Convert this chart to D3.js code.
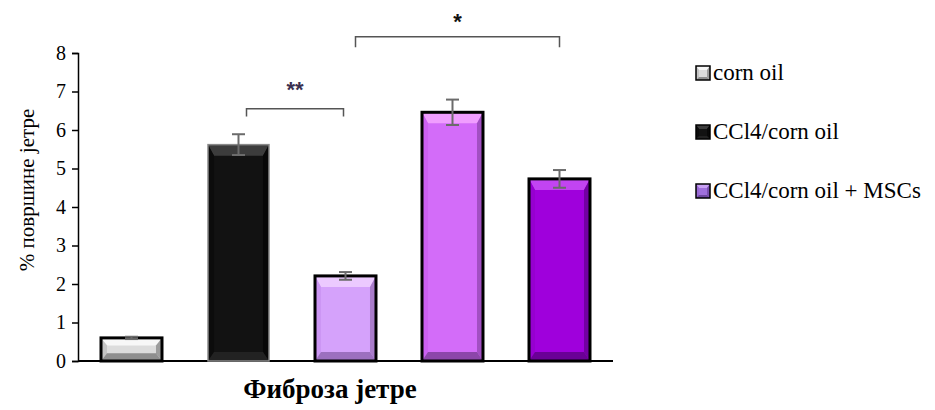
<!DOCTYPE html>
<html><head><meta charset="utf-8">
<script src="https://cdn.jsdelivr.net/npm/d3@7"></script>
<style>body{margin:0;background:#fff}svg{display:block}
.serif{font-family:"Liberation Serif","Times New Roman",Times,"DejaVu Serif",serif}
</style>
</head><body>
<svg id="c" width="935" height="410"></svg>
<script>
const categories = ["c1","c2","c3","c4","c5"];
const values = [0.6, 5.62, 2.21, 6.46, 4.73];
const errors = [0.03, 0.27, 0.1, 0.33, 0.23];
const yTicks = [0,1,2,3,4,5,6,7,8];
const legendLabels = ["corn oil","CCl4/corn oil","CCl4/corn oil + MSCs"];
const yLabel = "% површине јетре";
const xTitle = "Фиброза јетре";

const styles = [
  {base:"#dcdcdc", top:"#f7f7f7", left:"#c4c4c4", right:"#9c9c9c", bottom:"#8e8e8e", stroke:"#000", sw:3},
  {base:"#121212", top:"#3c3c3c", left:"#0c0c0c", right:"#080808", bottom:"#222", stroke:"#8a8a8a", sw:1.5},
  {base:"#d5a2fb", top:"#eccaff", left:"#cc96f4", right:"#a97cca", bottom:"#9c70bf", stroke:"#000", sw:3},
  {base:"#d36cf9", top:"#f09eff", left:"#cc60f2", right:"#a24fc2", bottom:"#8c46aa", stroke:"#000", sw:3},
  {base:"#9f00dc", top:"#c244f2", left:"#9600d0", right:"#7200a2", bottom:"#6a0096", stroke:"#000", sw:3}
];
const legendStyles = [styles[0], styles[1], {base:"#a070dc", top:"#c8a0f4", left:"#9868d4", right:"#7a50b0", bottom:"#6e48a0", stroke:"#000", sw:1.5}];

const svg = d3.select("#c");
const x = d3.scaleBand().domain(categories).range([78, 613]).paddingInner(0.43).paddingOuter(0.215);
const y = d3.scaleLinear().domain([0, 8]).range([361, 53]);

const yAxis = svg.append("g").attr("transform","translate(78,0)")
  .call(d3.axisLeft(y).tickValues(yTicks).tickSize(6).tickPadding(6).tickFormat(d3.format("d")));
yAxis.attr("font-family", null).attr("font-size", null);
yAxis.select(".domain").attr("stroke","#000").attr("stroke-width",1.5);
yAxis.selectAll(".tick line").attr("stroke","#000").attr("stroke-width",1.5);
yAxis.selectAll("text").attr("class","serif").style("font-size","20px").attr("fill","#000");

svg.append("line").attr("x1",78).attr("x2",613).attr("y1",y(0)).attr("y2",y(0)).attr("stroke","#000").attr("stroke-width",2);

function bevel(g, x0, x1, y0, y1, s, bt, bs, bb) {
  g.append("rect").attr("x",x0).attr("y",y0).attr("width",x1-x0).attr("height",y1-y0).attr("fill",s.base);
  const h = y1 - y0;
  const t = Math.min(bt, h/3), b = Math.min(bb, h/3);
  g.append("polygon").attr("points",[[x0,y0],[x1,y0],[x1-bs,y0+t],[x0+bs,y0+t]].join(" ")).attr("fill",s.top);
  g.append("polygon").attr("points",[[x0,y0],[x0+bs,y0+t],[x0+bs,y1-b],[x0,y1]].join(" ")).attr("fill",s.left);
  g.append("polygon").attr("points",[[x1,y0],[x1,y1],[x1-bs,y1-b],[x1-bs,y0+t]].join(" ")).attr("fill",s.right);
  g.append("polygon").attr("points",[[x0,y1],[x0+bs,y1-b],[x1-bs,y1-b],[x1,y1]].join(" ")).attr("fill",s.bottom);
  g.append("rect").attr("class","border").attr("x",x0).attr("y",y0).attr("width",x1-x0).attr("height",y1-y0)
    .attr("fill","none").attr("stroke",s.stroke).attr("stroke-width",s.sw);
}

const bars = svg.append("g");
categories.forEach((c,i)=>{
  const x0 = x(c), x1 = x(c)+x.bandwidth();
  bevel(bars.append("g"), x0, x1, y(values[i]), y(0), styles[i], 11, 6, 9);
});

const eg = svg.append("g").attr("stroke","#6b6b6b").attr("stroke-width",2);
categories.forEach((c,i)=>{
  const cx = x(c)+x.bandwidth()/2;
  const hi = y(values[i]+errors[i]), lo = y(values[i]-errors[i]);
  eg.append("line").attr("x1",cx).attr("x2",cx).attr("y1",hi).attr("y2",lo);
  eg.append("line").attr("x1",cx-6.5).attr("x2",cx+6.5).attr("y1",hi).attr("y2",hi);
  eg.append("line").attr("x1",cx-6.5).attr("x2",cx+6.5).attr("y1",lo).attr("y2",lo);
});

function bracket(xa, xb, yv, drop, label, ly, col) {
  const g = svg.append("g");
  g.append("path").attr("d",`M${xa},${y(yv-drop)}V${y(yv)}H${xb}V${y(yv-drop)}`)
    .attr("fill","none").attr("stroke","#555").attr("stroke-width",1.5);
  g.append("text").attr("x",(xa+xb)/2).attr("y",y(ly)).attr("text-anchor","middle")
    .style("font-family","'Liberation Sans',Arial,sans-serif").style("font-size","22px").style("font-weight","bold")
    .attr("fill",col).text(label);
}
bracket(x("c2")+x.bandwidth()/2+8, x("c3")+x.bandwidth()/2-2, 6.55, 0.2, "**", 6.85, "#3a3050");
bracket(x("c3")+x.bandwidth()/2+10, x("c5")+x.bandwidth()/2, 8.42, 0.27, "*", 8.62, "#111");

svg.append("text").attr("class","serif").attr("transform",`translate(27,${(y(0)+y(8))/2 - 17}) rotate(-90)`)
  .attr("text-anchor","middle").attr("dominant-baseline","central")
  .style("font-size","21px").text(yLabel);

svg.append("text").attr("class","serif").attr("x",330).attr("y",398).attr("text-anchor","middle")
  .style("font-size","27px").style("font-weight","bold").text(xTitle);

const lg = svg.append("g");
const rowY = [80, 139, 198];
legendLabels.forEach((l,i)=>{
  const g = lg.append("g");
  bevel(g, 696, 710, rowY[i]-14, rowY[i], legendStyles[i], 4, 3, 3);
  g.select("rect.border").attr("stroke-width",1.5).attr("stroke","#000");
  g.append("text").attr("class","serif").attr("x",713).attr("y",rowY[i])
    .style("font-size","23px").text(l);
});
</script>
</body></html>
